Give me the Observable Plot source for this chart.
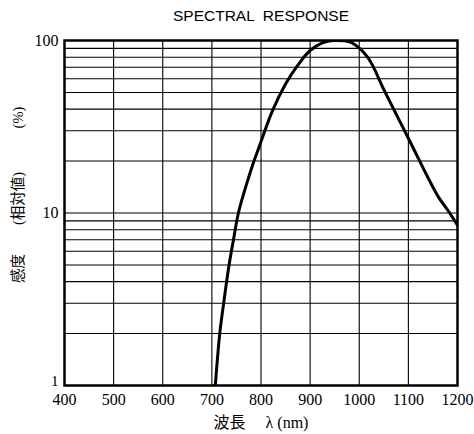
<!DOCTYPE html>
<html><head><meta charset="utf-8">
<script src="https://cdn.jsdelivr.net/npm/d3@7"></script>
<script src="https://cdn.jsdelivr.net/npm/@observablehq/plot@0.6"></script>
<style>body{margin:0;background:#fff}</style>
</head><body><div id="chart"></div>
<script>
const title = "SPECTRAL  RESPONSE";
const xLabel = "波長　 λ (nm)";
const yLabel = "　　\u2002感度　　(相対値)　　　(%)";
const wavelength = [707, 716, 724, 735, 744, 754, 770, 783, 797, 823, 850, 875, 900, 925, 950, 970, 985, 1017, 1050, 1070, 1099, 1120, 1140, 1161, 1182, 1200];
const response   = [1, 2, 3, 5, 7, 10, 14.5, 19, 24.5, 39, 56, 72, 87.5, 97, 100, 99.5, 97, 80, 52, 40, 27.5, 20.8, 16, 12.4, 10.2, 8.5];
const xTicks = [400, 500, 600, 700, 800, 900, 1000, 1100, 1200];
const yTicks = [10, 100];
const yTickLow = [1];
const yGrid = [2, 3, 4, 5, 6, 7, 8, 9, 10, 20, 30, 40, 50, 60, 70, 80, 90];

const data = wavelength.map((x, i) => ({x, y: response[i]}));
const serif = "'Liberation Serif', 'Noto Sans CJK JP', serif";

const chart = Plot.plot({
  width: 474, height: 434,
  marginLeft: 64, marginRight: 17, marginTop: 40, marginBottom: 49,
  style: {fontFamily: serif, fontSize: "16px", background: "#fff", color: "#000"},
  x: {domain: [400, 1200]},
  y: {type: "log", domain: [1, 100]},
  marks: [
    Plot.gridX(xTicks.slice(1, -1), {stroke: "#000", strokeOpacity: 1, strokeWidth: 1.1}),
    Plot.gridY(yGrid, {stroke: "#000", strokeOpacity: 1, strokeWidth: 1.1}),
    Plot.line(data, {x: "x", y: "y", curve: "catmull-rom", stroke: "#000", strokeWidth: 3, clip: true}),
    Plot.frame({stroke: "#000", strokeWidth: 2.5}),
    Plot.axisX(xTicks, {tickSize: 0, tickPadding: 8, tickFormat: d => String(d), fontSize: 16,
      label: null}),
    Plot.axisX({label: xLabel, labelAnchor: "center", labelArrow: "none", labelOffset: 42,
      ticks: [], tickSize: 0, fontSize: 16}),
    Plot.axisY(yTicks, {tickSize: 0, tickPadding: 6, tickFormat: d => String(d), fontSize: 16,
      label: null}),
    Plot.axisY(yTickLow, {tickSize: 0, tickPadding: 6, tickFormat: d => String(d), fontSize: 15,
      dy: -4, label: null}),
    Plot.axisY({label: yLabel, labelAnchor: "center", labelArrow: "none", labelOffset: 52,
      ticks: [], tickSize: 0, fontSize: 14.5}),
    Plot.text([title], {frameAnchor: "top", dy: -24, lineAnchor: "middle",
      fontFamily: "'Liberation Sans', sans-serif", fontSize: 15.5})
  ]
});
document.getElementById("chart").appendChild(chart);
</script>
</body></html>
